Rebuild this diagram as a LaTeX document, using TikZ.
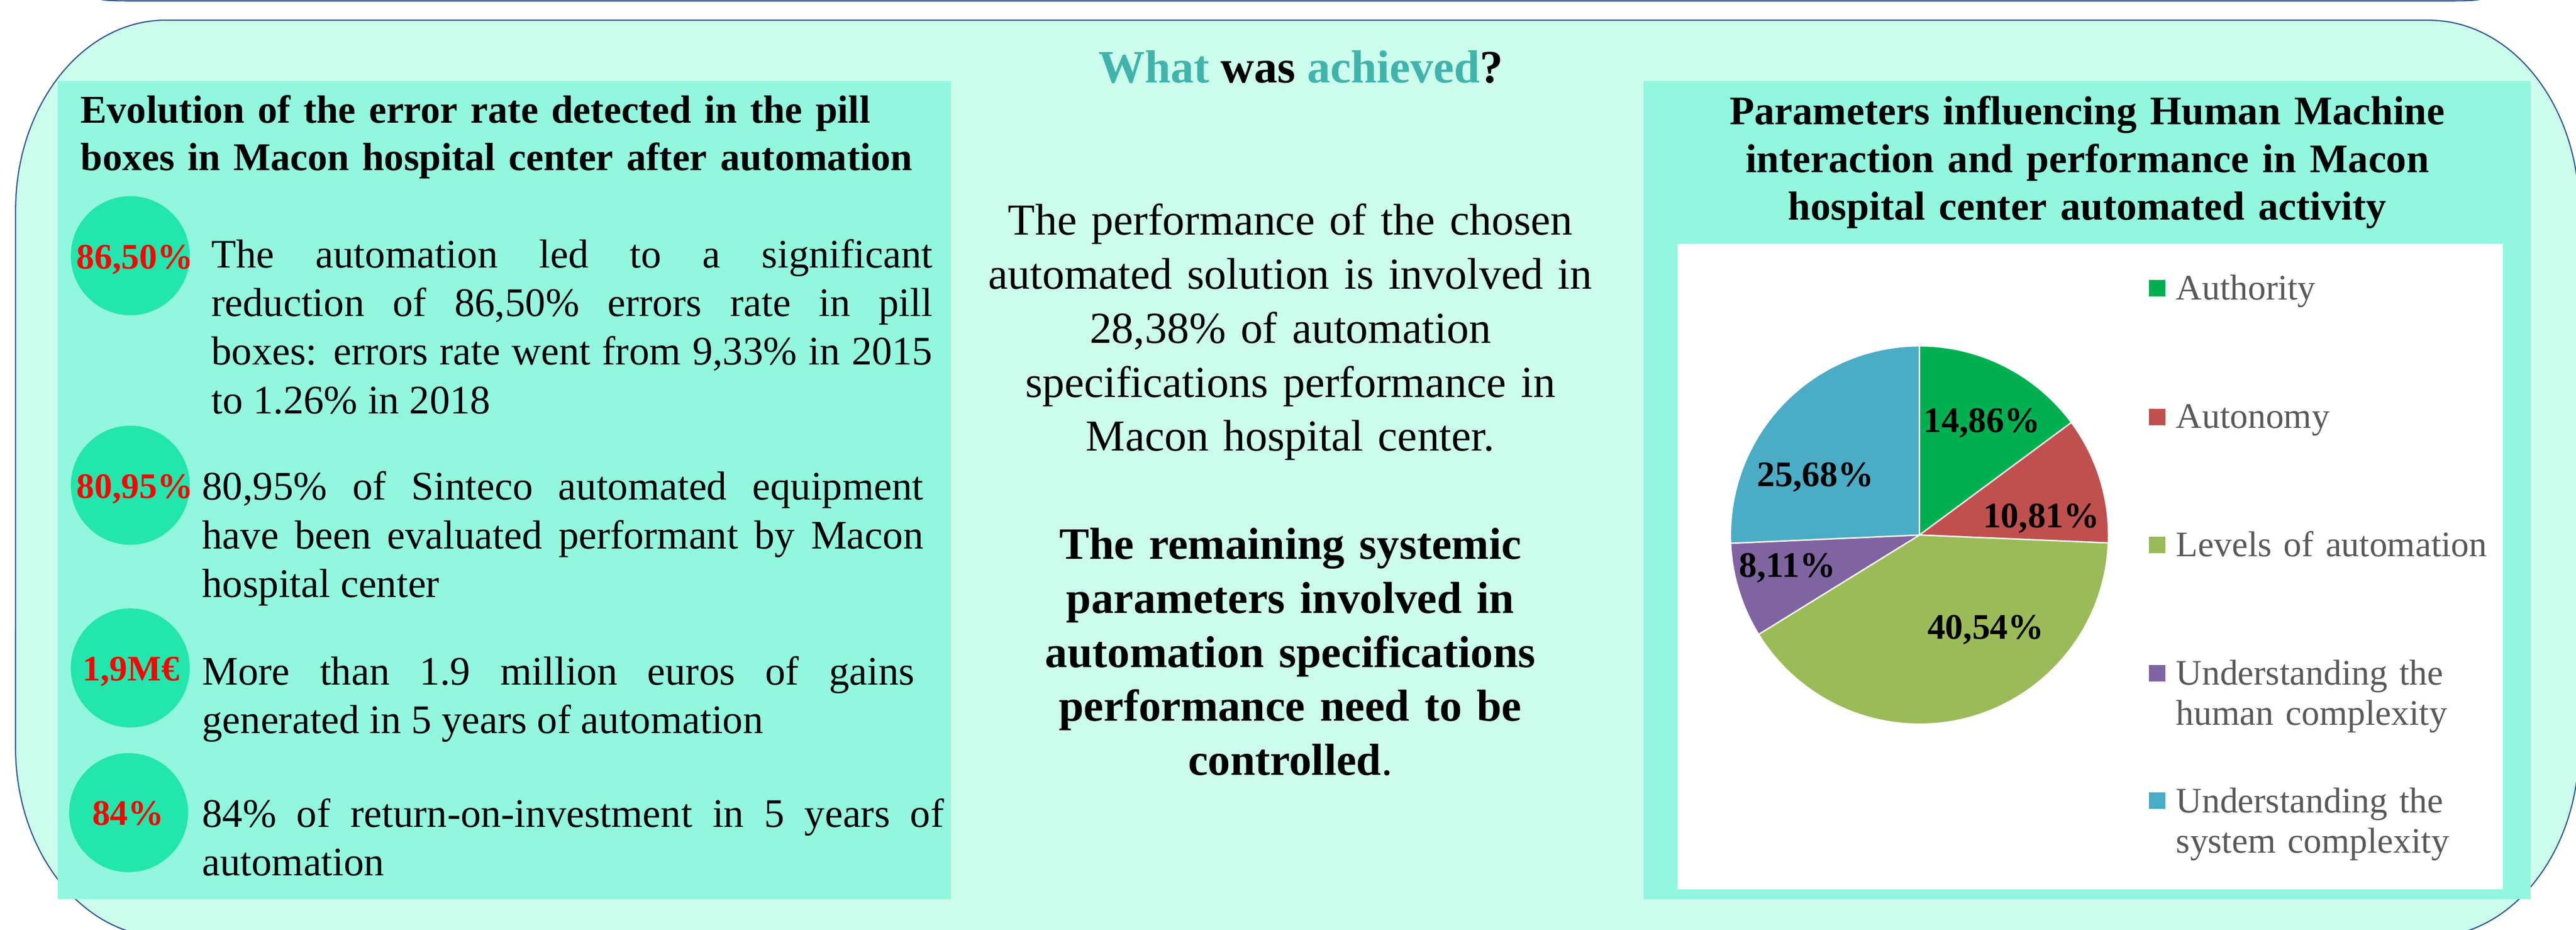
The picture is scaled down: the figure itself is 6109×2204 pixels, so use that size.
\documentclass[tikz,border=0pt]{standalone}
\usepackage{fontspec}
\setmainfont{Liberation Serif}
\usetikzlibrary{positioning}

\definecolor{fondclair}{RGB}{204,252,236}
\definecolor{vertpanneau}{RGB}{146,247,222}
\definecolor{vertpastille}{RGB}{34,230,172}
\definecolor{bordure}{RGB}{47,85,151}
\definecolor{turquoise}{RGB}{64,180,172}
\definecolor{autorite}{RGB}{0,176,80}
\definecolor{autonomie}{RGB}{192,80,77}
\definecolor{niveaux}{RGB}{155,187,89}
\definecolor{humain}{RGB}{128,100,162}
\definecolor{systeme}{RGB}{75,172,198}
\definecolor{gristexte}{RGB}{89,89,89}

\begin{document}
\begin{tikzpicture}[
      x=0.01cm, y=-0.01cm,
      cadre/.style={
        draw=bordure,
        line width=0.8pt
      },
      bloc/.style={
        fill=vertpanneau
      },
      pastille/.style={
        circle,
        fill=vertpastille,
        minimum size=2.82cm,
        inner sep=0pt
      },
      chiffre/.style={
        inner sep=0pt,
        anchor=base,
        text=red,
        font=\bfseries\fontsize{24.2}{29}\selectfont
      },
      texte/.style={
        inner sep=0pt,
        anchor=base west,
        align=justify,
        font=\fontsize{27.3}{32.7}\selectfont
      },
      titre/.style={
        inner sep=0pt,
        anchor=base,
        font=\bfseries\fontsize{27.3}{32.2}\selectfont
      },
      part/.style={
        draw=white,
        line width=0.9pt
      },
      pourcent/.style={
        inner sep=0pt,
        anchor=base,
        font=\bfseries\fontsize{24.2}{29}\selectfont
      },
      carre/.style={
        minimum size=0.39cm,
        inner sep=0pt
      },
      entree/.style={
        inner sep=0pt,
        anchor=base west,
        align=left,
        text width=8cm,
        text=gristexte,
        font=\fontsize{24.2}{27}\selectfont
      }
    ]
    \useasboundingbox (0,0) rectangle (6109,2204);

    % bord du cadre precedent
    \draw[cadre] (190,-60) .. controls (215,2) .. (320,2) -- (5800,2) .. controls (5905,2) .. (5930,-60);

    % cadre principal
    \draw[cadre, fill=fondclair] (393,48) -- (5760,48)
      arc[start angle=90, end angle=0, x radius=3.56cm, y radius=4.5cm]
      -- (6116,1771)
      arc[start angle=0, end angle=-90, x radius=3.56cm, y radius=4.5cm]
      -- (393,2221)
      arc[start angle=270, end angle=180, x radius=3.56cm, y radius=4.5cm]
      -- (37,498)
      arc[start angle=180, end angle=90, x radius=3.56cm, y radius=4.5cm] -- cycle;

    \node[inner sep=0pt, anchor=base, font=\bfseries\fontsize{31.3}{37}\selectfont] (question) at (3085,196)
      {\textcolor{turquoise}{What} was \textcolor{turquoise}{achieved}?};

    % panneau de gauche
    \fill[bloc] (137,192) rectangle (2255,2131);
    \node[titre, anchor=base west, text width=21cm, align=left, font=\bfseries\fontsize{26.5}{32.2}\selectfont] (titregauche) at (191,291)
      {Evolution of the error rate detected in the pill\\boxes in Macon hospital center after automation};

    \node[pastille] (p1) at (309,606) {};
    \node[pastille] (p2) at (309,1150) {};
    \node[pastille] (p3) at (309,1583) {};
    \node[pastille] (p4) at (305,1926) {};

    \node[chiffre] (c1) at (320,637) {86,50\%};
    \node[chiffre] (c2) at (320,1181) {80,95\%};
    \node[chiffre] (c3) at (311,1613) {1,9M€};
    \node[chiffre] (c4) at (304,1956) {84\%};

    \node[texte, text width=17.09cm] (t1) at (501,635)
      {The automation led to a significant\linebreak reduction of 86,50\% errors rate in pill\linebreak boxes: errors rate went from 9,33\% in 2015\linebreak to 1.26\% in 2018};
    \node[texte, text width=17.09cm] (t2) at (479,1185)
      {80,95\% of Sinteco automated equipment\linebreak have been evaluated performant by Macon\linebreak hospital center};
    \node[texte, text width=16.88cm] (t3) at (479,1623)
      {More than 1.9 million euros of gains\linebreak generated in 5 years of automation};
    \node[texte, text width=17.58cm] (t4) at (479,1960)
      {84\% of return-on-investment in 5 years of\linebreak automation};

    % texte du milieu
    \node[inner sep=0pt, anchor=base, text width=16cm, align=center, font=\fontsize{29.8}{36.4}\selectfont] (constat) at (3060,557)
      {The performance of the chosen\\automated solution is involved in\\28,38\% of automation\\specifications performance in\\Macon hospital center.};
    \node[inner sep=0pt, anchor=base, text width=16cm, align=center, font=\bfseries\fontsize{30.2}{36.4}\selectfont] (conclusion) at (3060,1325)
      {The remaining systemic\\parameters involved in\\automation specifications\\performance need to be\\controlled{\mdseries .}};

    % panneau de droite
    \fill[bloc] (3898,192) rectangle (6002,2131);
    \node[titre, text width=20cm, align=center] (titredroite) at (4950,295)
      {Parameters influencing Human Machine\\interaction and performance in Macon\\hospital center automated activity};
    \fill[white] (3978,578) rectangle (5935,2108);

    \coordinate (centre) at (4552,1268);
    \path[part, fill=autorite]  (centre) -- ++(90:4.48cm)    arc[start angle=90,    end angle=36.5,   radius=4.48cm] -- cycle;
    \path[part, fill=autonomie] (centre) -- ++(36.5:4.48cm)  arc[start angle=36.5,  end angle=-2.4,   radius=4.48cm] -- cycle;
    \path[part, fill=niveaux]   (centre) -- ++(-2.4:4.48cm)  arc[start angle=-2.4,  end angle=-148.3, radius=4.48cm] -- cycle;
    \path[part, fill=humain]    (centre) -- ++(-148.3:4.48cm) arc[start angle=-148.3, end angle=-177.5, radius=4.48cm] -- cycle;
    \path[part, fill=systeme]   (centre) -- ++(-177.5:4.48cm) arc[start angle=-177.5, end angle=-270,   radius=4.48cm] -- cycle;

    \node[pourcent] (v1) at (4700,1024) {14,86\%};
    \node[pourcent] (v2) at (4841,1251) {10,81\%};
    \node[pourcent] (v3) at (4709,1514) {40,54\%};
    \node[pourcent] (v4) at (4239,1368) {8,11\%};
    \node[pourcent] (v5) at (4305,1153) {25,68\%};

    % legende
    \node[carre, fill=autorite]  (k1) at (5116,683) {};
    \node[carre, fill=autonomie] (k2) at (5116,988) {};
    \node[carre, fill=niveaux]   (k3) at (5116,1292) {};
    \node[carre, fill=humain]    (k4) at (5116,1596) {};
    \node[carre, fill=systeme]   (k5) at (5116,1898) {};

    \node[entree] (l1) at (5160,711) {Authority};
    \node[entree] (l2) at (5160,1015) {Autonomy};
    \node[entree] (l3) at (5160,1319) {Levels of automation};
    \node[entree] (l4) at (5160,1623) {Understanding the\\human complexity};
    \node[entree] (l5) at (5160,1926) {Understanding the\\system complexity};
  \end{tikzpicture}
\end{document}
